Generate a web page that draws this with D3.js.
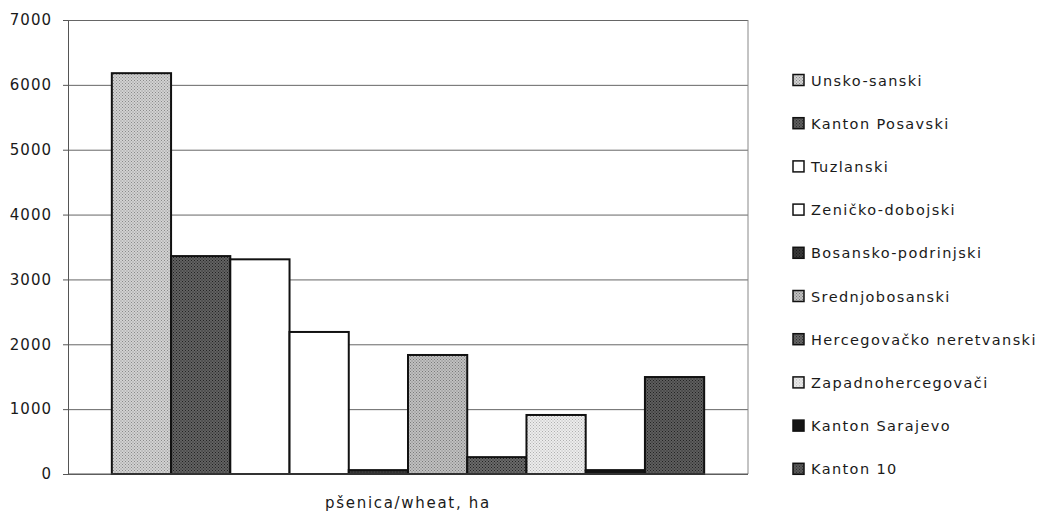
<!DOCTYPE html>
<html lang="en">
<head>
<meta charset="utf-8">
<title>pšenica/wheat, ha</title>
<script src="https://d3js.org/d3.v7.min.js"></script>
<style>
body{ margin:0; background:#fff; }
text{ font-family:"DejaVu Sans", sans-serif; fill:#1a1a1a; }
.grid line{ stroke:#666; stroke-width:1; }
.grid path{ display:none; }
.axis path, .axis line{ stroke:#555; fill:none; }
</style>
</head>
<body>
<div id="chart"></div>
<script>
// data
var category = 'pšenica/wheat, ha';
var cantons = ['Unsko-sanski', 'Kanton Posavski', 'Tuzlanski', 'Zeničko-dobojski',
  'Bosansko-podrinjski', 'Srednjobosanski', 'Hercegovačko neretvanski',
  'Zapadnohercegovači', 'Kanton Sarajevo', 'Kanton 10'];
var wheat = [6180, 3360, 3310, 2190, 60, 1835, 260, 910, 60, 1495];
var yTicks = [0, 1000, 2000, 3000, 4000, 5000, 6000, 7000];

// fill: base colour + dot colour (null = plain)
var fills = [
  ['#d2d2d2', '#8a8a8a'], ['#626262', '#222'], ['#ffffff', null], ['#ffffff', null],
  ['#3c3c3c', '#111'], ['#c0c0c0', '#7a7a7a'], ['#6a6a6a', '#222'],
  ['#ececec', '#b0b0b0'], ['#151515', null], ['#5e5e5e', '#222']
];

var margin = { top: 20, right: 292, bottom: 45, left: 68 };
var W = 1040, H = 519;
var width = W - margin.left - margin.right, height = H - margin.top - margin.bottom;

var svg = d3.select('#chart').append('svg')
  .attr('width', W).attr('height', H);

var defs = svg.append('defs');
fills.forEach(function(f, i) {
  var p = defs.append('pattern').attr('id', 'pat' + i)
    .attr('width', 3).attr('height', 3).attr('patternUnits', 'userSpaceOnUse');
  p.append('rect').attr('width', 3).attr('height', 3).attr('fill', f[0]);
  if (f[1]) {
    p.append('rect').attr('width', 1).attr('height', 1).attr('fill', f[1]);
    p.append('rect').attr('x', 1.5).attr('y', 1.5).attr('width', 1).attr('height', 1).attr('fill', f[1]);
  }
});

var g = svg.append('g')
  .attr('transform', 'translate(' + margin.left + ',' + margin.top + ')');

var yScale = d3.scaleLinear().domain([0, 7000]).range([height, 0]);
var xScale = d3.scaleBand().domain(cantons).range([0, width])
  .paddingInner(0).paddingOuter(0.74);

// gridlines
g.append('g').attr('class', 'grid')
  .call(d3.axisLeft(yScale).tickValues(yTicks).tickSize(-width).tickFormat(''));

// right border of plot area
g.append('line').attr('x1', width).attr('x2', width)
  .attr('y1', 0).attr('y2', height).attr('stroke', '#888');

// bars
g.selectAll('rect.bar').data(wheat).enter().append('rect')
  .attr('class', 'bar')
  .attr('x', function(d, i) { return xScale(cantons[i]); })
  .attr('y', function(d) { return yScale(d); })
  .attr('width', xScale.bandwidth())
  .attr('height', function(d) { return height - yScale(d); })
  .attr('fill', function(d, i) { return 'url(#pat' + i + ')'; })
  .attr('stroke', '#111').attr('stroke-width', 2);

// y axis
var yAxis = g.append('g').attr('class', 'axis')
  .call(d3.axisLeft(yScale).tickValues(yTicks).tickFormat(d3.format('d'))
    .tickSize(5).tickPadding(11).tickSizeOuter(0));
yAxis.selectAll('text')
  .style('font-size', '15px').style('letter-spacing', '1px')
  .style('font-family', '"DejaVu Sans", sans-serif').attr('fill', '#1a1a1a');

// x axis line
g.append('line').attr('x1', 0).attr('x2', width)
  .attr('y1', height).attr('y2', height).attr('stroke', '#555');

// category label
g.append('text')
  .attr('x', width / 2).attr('y', height + 34)
  .attr('text-anchor', 'middle')
  .style('font-size', '15px').style('letter-spacing', '1.7px')
  .text(category);

// legend
var legend = svg.append('g').attr('transform', 'translate(793,80)');
var rowH = 43.2;
var item = legend.selectAll('g').data(cantons).enter().append('g')
  .attr('transform', function(d, i) { return 'translate(0,' + (i * rowH) + ')'; });
item.append('rect')
  .attr('x', 0).attr('y', -5.5).attr('width', 11).attr('height', 11)
  .attr('fill', function(d, i) { return 'url(#pat' + i + ')'; })
  .attr('stroke', '#111').attr('stroke-width', 1.5);
item.append('text')
  .attr('x', 18).attr('y', 5.5)
  .style('font-size', '14.5px').style('letter-spacing', '1.4px')
  .text(function(d) { return d; });
</script>
</body>
</html>
